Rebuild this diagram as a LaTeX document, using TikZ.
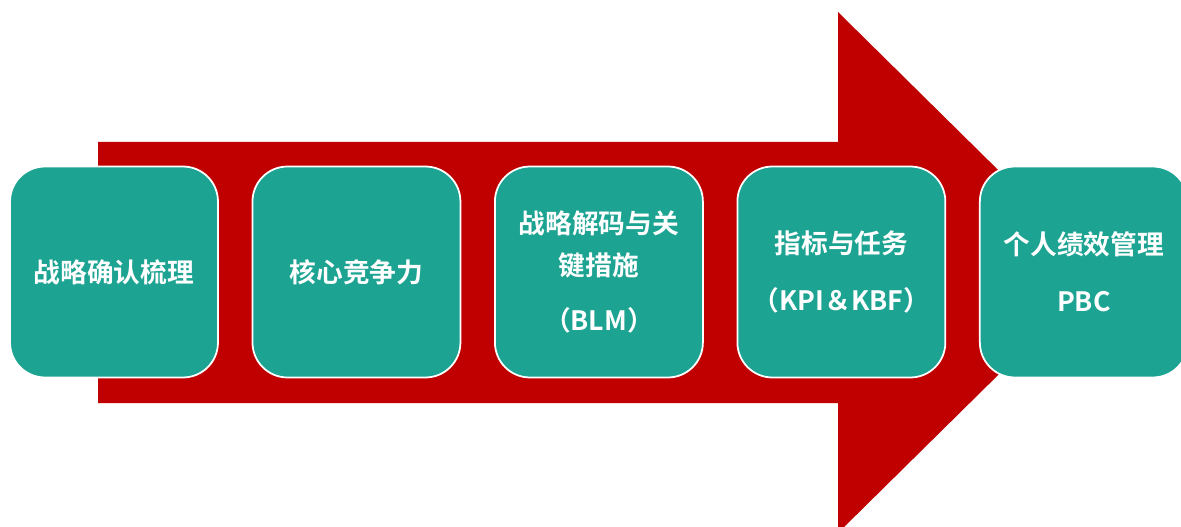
\documentclass[tikz,border=0pt]{standalone}
\usepackage{fontspec}
\newfontfamily\cjk{Noto Sans CJK SC}[BoldFont={Noto Sans CJK SC Bold}]
\usepackage{tikz}
\usetikzlibrary{positioning}
\definecolor{arrowred}{HTML}{C00000}
\definecolor{stepteal}{HTML}{1CA392}
\tikzset{stagebox/.style={draw=white, line width=1pt, fill=stepteal, rounded corners=0.7cm,
  minimum width=4.16cm, minimum height=4.22cm, align=center, text=white,
  font=\cjk\bfseries\fontsize{15.2}{24}\selectfont}}

\begin{document}
\begin{tikzpicture}[x=0.02cm,y=-0.02cm, node distance=0.655cm]
\useasboundingbox (0,0) rectangle (1181,527);
\clip (0,0) rectangle (1181,527);
\fill[arrowred] (98,142) -- (838,142) -- (838,12) -- (1102,272.5) -- (838,533) -- (838,403) -- (98,403) -- cycle;
\node[stagebox] (s1) at (114,272) {战略确认梳理};
\node[stagebox, right=of s1] (s2) {核心竞争力};
\node[stagebox, right=of s2] (s3) {战略解码与关\\键措施\\[0.26cm]（BLM）};
\node[stagebox, right=of s3] (s4) {指标与任务\\[0.3cm]（KPI＆KBF）};
\node[stagebox, right=of s4] (s5) {个人绩效管理\\[0.3cm]PBC};
\end{tikzpicture}
\end{document}
